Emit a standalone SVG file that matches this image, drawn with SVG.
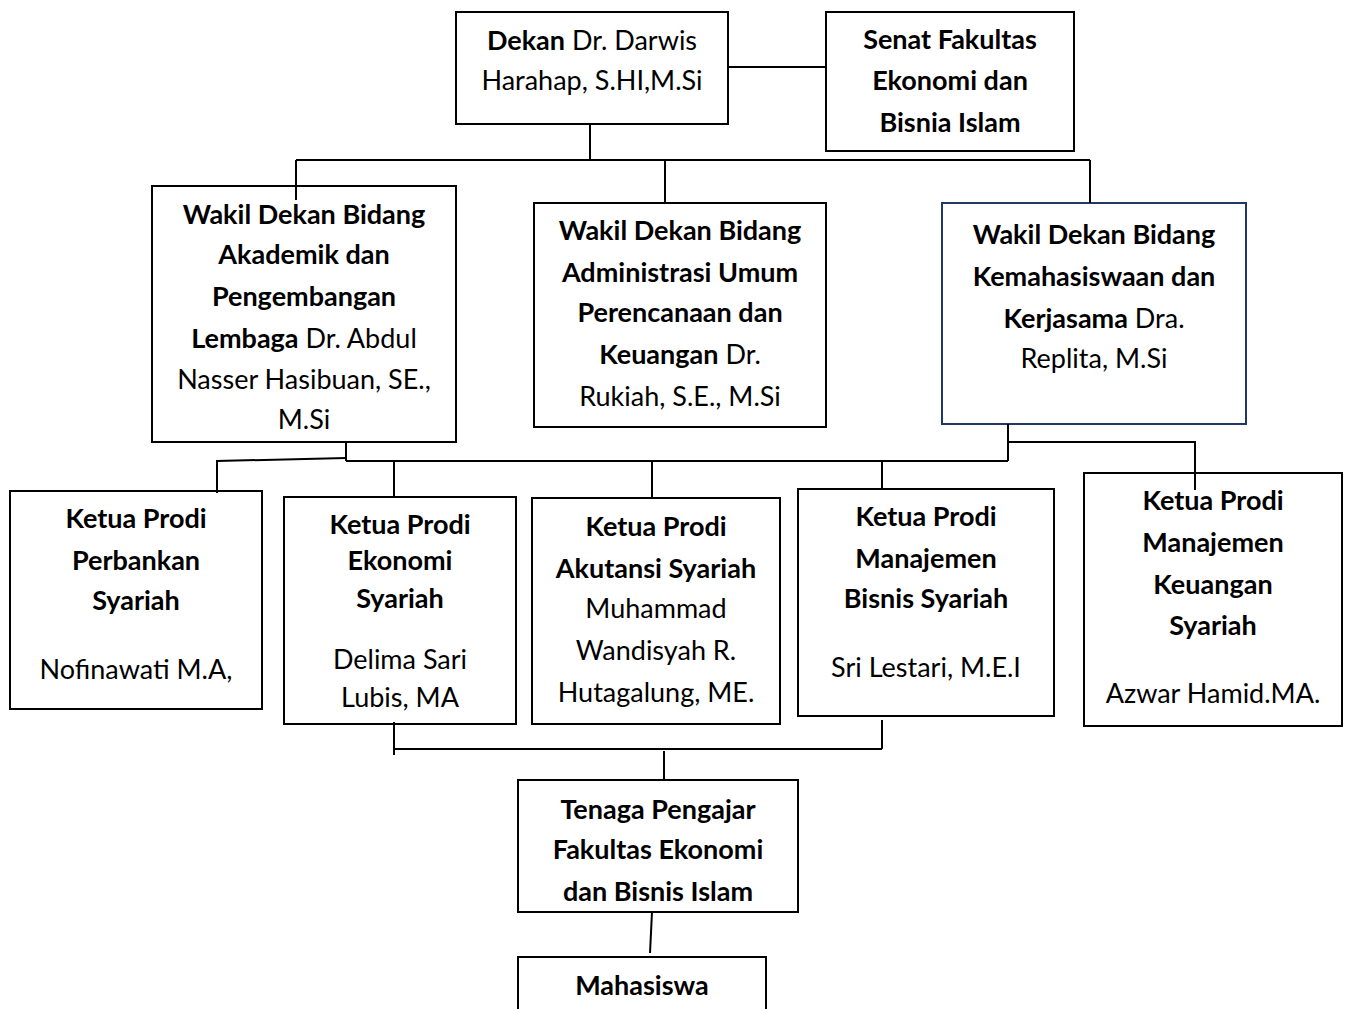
<svg xmlns="http://www.w3.org/2000/svg" width="1346" height="1009" viewBox="0 0 1346 1009">
<style>
.box{fill:#fff;stroke:#000;stroke-width:2}
.blue{stroke:#1f3864}
text{font-family:Lato,"Open Sans","Liberation Sans",sans-serif;font-size:27px;fill:#000;text-anchor:middle}
.b{font-weight:bold}
.c line,.c polyline{stroke:#000;stroke-width:2;fill:none}
</style>
<rect width="1346" height="1009" fill="#fff"/>
<g id="dekan"><rect class="box" x="456" y="12" width="272" height="112"/>
<text x="592" y="50"><tspan class="b">Dekan</tspan> Dr. Darwis</text>
<text x="592" y="90">Harahap, S.HI,M.Si</text></g>
<g id="senat"><rect class="box" x="826" y="12" width="248" height="139"/>
<text class="b" x="950" y="49">Senat Fakultas</text>
<text class="b" x="950" y="90">Ekonomi dan</text>
<text class="b" x="950" y="132">Bisnia Islam</text></g>
<g id="wd1"><rect class="box" x="152" y="186" width="304" height="256"/>
<text class="b" x="304" y="224">Wakil Dekan Bidang</text>
<text class="b" x="304" y="264">Akademik dan</text>
<text class="b" x="304" y="306">Pengembangan</text>
<text x="304" y="348"><tspan class="b">Lembaga</tspan> Dr. Abdul</text>
<text x="304" y="389">Nasser Hasibuan, SE.,</text>
<text x="304" y="429">M.Si</text></g>
<g id="wd2"><rect class="box" x="534" y="203" width="292" height="224"/>
<text class="b" x="680" y="240">Wakil Dekan Bidang</text>
<text class="b" x="680" y="282">Administrasi Umum</text>
<text class="b" x="680" y="322">Perencanaan dan</text>
<text x="680" y="364"><tspan class="b">Keuangan</tspan> Dr.</text>
<text x="680" y="406">Rukiah, S.E., M.Si</text></g>
<g id="wd3"><rect class="box blue" x="942" y="203" width="304" height="221"/>
<text class="b" x="1094" y="244">Wakil Dekan Bidang</text>
<text class="b" x="1094" y="286">Kemahasiswaan dan</text>
<text x="1094" y="328"><tspan class="b">Kerjasama</tspan> Dra.</text>
<text x="1094" y="368">Replita, M.Si</text></g>
<g id="p1"><rect class="box" x="10" y="491" width="252" height="218"/>
<text class="b" x="136" y="528">Ketua Prodi</text>
<text class="b" x="136" y="570">Perbankan</text>
<text class="b" x="136" y="610">Syariah</text>
<text x="136" y="679">Nofinawati M.A,</text></g>
<g id="p2"><rect class="box" x="284" y="497" width="232" height="227"/>
<text class="b" x="400" y="534">Ketua Prodi</text>
<text class="b" x="400" y="570">Ekonomi</text>
<text class="b" x="400" y="608">Syariah</text>
<text x="400" y="669">Delima Sari</text>
<text x="400" y="707">Lubis, MA</text></g>
<g id="p3"><rect class="box" x="532" y="498" width="248" height="226"/>
<text class="b" x="656" y="536">Ketua Prodi</text>
<text class="b" x="656" y="578">Akutansi Syariah</text>
<text x="656" y="618">Muhammad</text>
<text x="656" y="660">Wandisyah R.</text>
<text x="656" y="702">Hutagalung, ME.</text></g>
<g id="p4"><rect class="box" x="798" y="489" width="256" height="227"/>
<text class="b" x="926" y="526">Ketua Prodi</text>
<text class="b" x="926" y="568">Manajemen</text>
<text class="b" x="926" y="608">Bisnis Syariah</text>
<text x="926" y="677">Sri Lestari, M.E.I</text></g>
<g id="p5"><rect class="box" x="1084" y="473" width="258" height="253"/>
<text class="b" x="1213" y="510">Ketua Prodi</text>
<text class="b" x="1213" y="552">Manajemen</text>
<text class="b" x="1213" y="594">Keuangan</text>
<text class="b" x="1213" y="635">Syariah</text>
<text x="1213" y="703">Azwar Hamid.MA.</text></g>
<g id="tenaga"><rect class="box" x="518" y="780" width="280" height="132"/>
<text class="b" x="658" y="819">Tenaga Pengajar</text>
<text class="b" x="658" y="859">Fakultas Ekonomi</text>
<text class="b" x="658" y="901">dan Bisnis Islam</text></g>
<g id="mahasiswa"><rect class="box" x="518" y="957" width="248" height="60"/>
<text class="b" x="642" y="995">Mahasiswa</text></g>
<g class="c" id="connectors">
<line x1="728" y1="67" x2="826" y2="67"/>
<line x1="590" y1="124" x2="590" y2="160"/>
<line x1="296" y1="160" x2="1090" y2="160"/>
<line x1="296" y1="160" x2="296" y2="200"/>
<line x1="665" y1="160" x2="665" y2="203"/>
<line x1="1090" y1="160" x2="1090" y2="203"/>
<line x1="346" y1="442" x2="346" y2="461"/>
<line x1="346" y1="461" x2="1008" y2="461"/>
<line x1="1008" y1="424" x2="1008" y2="461"/>
<polyline points="1008,442 1195,442 1195,490"/>
<polyline points="346,458 217,461 217,493"/>
<line x1="394" y1="461" x2="394" y2="497"/>
<line x1="652" y1="461" x2="652" y2="498"/>
<line x1="882" y1="461" x2="882" y2="489"/>
<line x1="394" y1="722" x2="394" y2="755"/>
<line x1="394" y1="749" x2="882" y2="749"/>
<line x1="882" y1="720" x2="882" y2="749"/>
<line x1="664" y1="751" x2="664" y2="780"/>
<line x1="652" y1="912" x2="650" y2="953"/>
</g>
</svg>
